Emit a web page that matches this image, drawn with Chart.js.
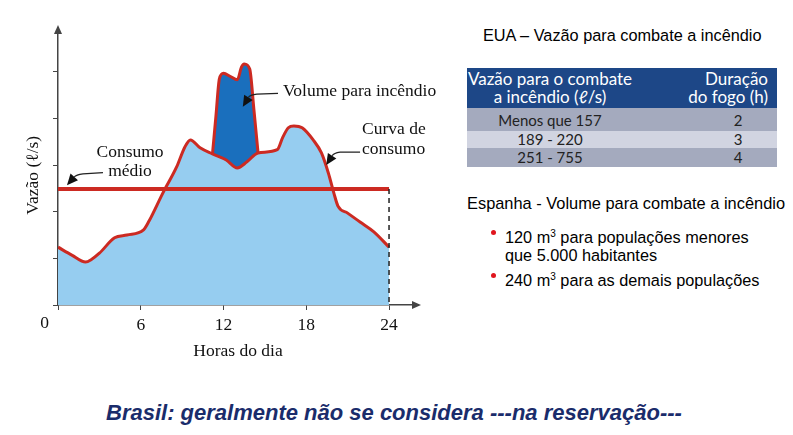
<!DOCTYPE html>
<html><head><meta charset="utf-8">
<script src="https://cdn.jsdelivr.net/npm/chart.js@4.4.1/dist/chart.umd.min.js"></script>
<style>
html,body{margin:0;padding:0;background:#fff;width:793px;height:435px;overflow:hidden;position:relative;font-family:"Liberation Sans",Arial,sans-serif;color:#111}
#wrap{position:absolute;left:0;top:0;width:450px;height:370px}
.abs{position:absolute;white-space:nowrap}
#eua{left:483px;top:25px;font-size:16.3px;line-height:20px;color:#000}
#tbl{position:absolute;left:467px;top:68px;width:310px;font-family:Lato,"Open Sans",sans-serif;font-size:15px}
#tbl .hd{background:#1d4787;color:#fff;height:40px;position:relative;font-size:17px}
#tbl .row{position:relative;color:#222}
#tbl .c1{position:absolute;left:0;width:166px;text-align:center}
#tbl .c2{position:absolute;right:9px;text-align:right}
#tbl .v2{position:absolute;left:264px;width:14px;text-align:center}
#esp{left:467px;top:193px;font-size:16.4px;line-height:20px;color:#000}
.bl{left:505px;font-size:16.3px;line-height:18px;color:#000}
.dot{position:absolute;width:5px;height:5px;border-radius:50%;background:#e0161e}
sup{font-size:10px;vertical-align:6px;line-height:0}
#cap{left:106px;top:399px;font-size:22px;line-height:28px;font-weight:bold;font-style:italic;color:#1a2c6b}
</style></head><body>
<div id="wrap"><canvas id="c" width="450" height="370"></canvas></div>

<div class="abs" id="eua">EUA – Vazão para combate a incêndio</div>
<div id="tbl">
  <div class="hd">
    <div class="c1" style="top:2px;line-height:18px">Vazão para o combate<br>a incêndio (ℓ/s)</div>
    <div class="c2" style="top:2px;line-height:18px">Duração<br>do fogo (h)</div>
  </div>
  <div class="row" style="background:#a4aabe;height:23px"><div class="c1" style="top:3px">Menos que 157</div><div class="v2" style="top:3px">2</div></div>
  <div class="row" style="background:#d1d4e1;height:17px"><div class="c1" style="top:-1px">189 - 220</div><div class="v2" style="top:-1px">3</div></div>
  <div class="row" style="background:#a4aabe;height:19px"><div class="c1" style="top:0px">251 - 755</div><div class="v2" style="top:0px">4</div></div>
</div>
<div class="abs" id="esp">Espanha - Volume para combate a incêndio</div>
<div class="dot" style="left:491px;top:230px"></div>
<div class="abs bl" style="top:228px">120 m<sup>3</sup> para populações menores<br>que 5.000 habitantes</div>
<div class="dot" style="left:491px;top:273px"></div>
<div class="abs bl" style="top:271px">240 m<sup>3</sup> para as demais populações</div>
<div class="abs" id="cap">Brasil: geralmente não se considera ---na reservação---</div>

<script>
// ---- data ----
const hours = [0,1.0,2.0,2.4,3.0,4.1,5.0,6.2,6.6,7.6,8.6,9.2,9.6,10.3,11.2,12.2,13.0,13.7,14.5,15.9,16.3,16.7,17.1,17.7,18.5,19.1,19.6,20.0,20.3,21.0,21.9,22.9,24];
const flow  = [1.24,1.07,0.92,0.97,1.11,1.44,1.50,1.61,1.80,2.40,2.96,3.39,3.54,3.37,3.24,3.11,2.94,3.07,3.26,3.33,3.60,3.80,3.84,3.80,3.54,3.26,2.83,2.40,2.12,1.97,1.78,1.57,1.24];
const fireHours = [11.2,11.45,11.7,12.0,12.5,13.0,13.3,13.5,13.9,14.2,14.5];
const fireFlow  = [3.24,4.05,4.85,4.97,4.90,4.83,5.10,5.17,5.06,4.20,3.27];
const meanHours = [0,24];
const meanFlow  = [2.49,2.49];
const xTicks = [0,6,12,18,24];
const yTicks = [0,1,2,3,4,5];
const xTitle = 'Horas do dia';
const yTitle = 'Vazão (ℓ/s)';

const RED = '#cc2a22', LIGHT = '#96cdf0', DARK = '#1a6fbd', AX = '#444';
const SERIF = '"Liberation Serif","Times New Roman",serif';
const zip = (a,b) => a.map((v,i)=>({x:v,y:b[i]}));

const annotations = [
  {lines:['Volume para incêndio'], at:[16.31,4.57], align:'left', lh:0,
   arrow:{start:[15.95,4.54], knee:[14.42,4.52], ctrl:[13.9,4.50], tip:[13.4,4.25]}},
  {lines:['Curva de','consumo'], at:[22.04,3.76], align:'left', lh:20,
   arrow:{start:[21.9,3.28], knee:[20.45,3.28], ctrl:[20.0,3.26], tip:[19.45,3.0]}},
  {lines:['Consumo','médio'], at:[5.22,3.27], align:'center', lh:19,
   arrow:{start:[3.26,2.84], knee:[1.81,2.81], ctrl:[1.31,2.79], tip:[0.65,2.57]}}
];

const decor = {
  id:'decor',
  afterDraw(chart){
    const {ctx, chartArea:ca, scales:{x,y}} = chart;
    const P = (p)=>[x.getPixelForValue(p[0]), y.getPixelForValue(p[1])];
    ctx.save();
    ctx.fillStyle = AX;
    ctx.beginPath(); ctx.moveTo(ca.right+3, ca.bottom); ctx.lineTo(ca.right-6, ca.bottom-4); ctx.lineTo(ca.right-6, ca.bottom+4); ctx.closePath(); ctx.fill();
    ctx.beginPath(); ctx.moveTo(ca.left, ca.top-3); ctx.lineTo(ca.left-4, ca.top+6); ctx.lineTo(ca.left+4, ca.top+6); ctx.closePath(); ctx.fill();
    ctx.font = '17.5px ' + SERIF;
    ctx.fillStyle = '#111';
    ctx.textBaseline = 'middle';
    annotations.forEach(a=>{
      const [tx,ty] = P(a.at);
      ctx.textAlign = a.align;
      a.lines.forEach((t,i)=>ctx.fillText(t, tx, ty + i*a.lh));
      const s=P(a.arrow.start), k=P(a.arrow.knee), c=P(a.arrow.ctrl), tp=P(a.arrow.tip);
      const ang = Math.atan2(tp[1]-c[1], tp[0]-c[0]);
      const L = 11, W = 5;
      const bx = tp[0]-L*Math.cos(ang), by = tp[1]-L*Math.sin(ang);
      ctx.strokeStyle = '#222'; ctx.lineWidth = 1.2;
      ctx.beginPath(); ctx.moveTo(s[0],s[1]); ctx.lineTo(k[0],k[1]); ctx.quadraticCurveTo(c[0],c[1],bx,by); ctx.stroke();
      ctx.fillStyle = '#111';
      ctx.beginPath(); ctx.moveTo(tp[0],tp[1]);
      ctx.lineTo(bx + W*Math.sin(ang), by - W*Math.cos(ang));
      ctx.lineTo(bx - W*Math.sin(ang), by + W*Math.cos(ang));
      ctx.closePath(); ctx.fill();
    });
    ctx.restore();
  }
};

new Chart(document.getElementById('c'), {
  type:'line',
  data:{datasets:[
    {data:[{x:meanHours[1],y:meanFlow[1]},{x:meanHours[1],y:0}], borderColor:'#222', borderWidth:1.5, borderDash:[5,4], pointRadius:0, fill:false},
    {data:zip(meanHours,meanFlow), borderColor:RED, borderWidth:4, pointRadius:0, fill:false},
    {data:zip(hours,flow), borderColor:RED, borderWidth:3, pointRadius:0, fill:'origin', backgroundColor:LIGHT, cubicInterpolationMode:'monotone'},
    {data:zip(fireHours,fireFlow), borderColor:RED, borderWidth:3, pointRadius:0, fill:'origin', backgroundColor:DARK, cubicInterpolationMode:'monotone'}
  ]},
  options:{
    responsive:false, animation:false, devicePixelRatio:1,
    layout:{padding:{top:28,right:32,left:0,bottom:0}},
    plugins:{legend:{display:false}, tooltip:{enabled:false}},
    scales:{
      x:{type:'linear', min:0, max:26.1,
         afterFit:s=>{s.height=65;},
         afterBuildTicks:s=>{s.ticks = xTicks.map(v=>({value:v}));},
         border:{color:AX, width:1.5},
         grid:{drawOnChartArea:false, tickLength:5, color:AX},
         ticks:{callback:v=>v===0?'':String(v), font:{family:SERIF, size:17.5}, color:'#111', padding:5, maxRotation:0},
         title:{display:true, text:xTitle, font:{family:SERIF, size:17.5}, color:'#111', padding:{top:0,bottom:8}}},
      y:{type:'linear', min:0, max:5.94,
         afterFit:s=>{s.width=58;},
         afterBuildTicks:s=>{s.ticks = yTicks.map(v=>({value:v}));},
         border:{color:AX, width:1.5},
         grid:{drawOnChartArea:false, tickLength:5, color:AX},
         ticks:{callback:v=>v===0?'0':'', font:{family:SERIF, size:17.5}, color:'#111', padding:4, labelOffset:18},
         title:{display:true, text:yTitle + '    ', font:{family:SERIF, size:17.5}, color:'#111', padding:{top:23,bottom:0}}}
    }
  },
  plugins:[decor]
});
</script>
</body></html>
